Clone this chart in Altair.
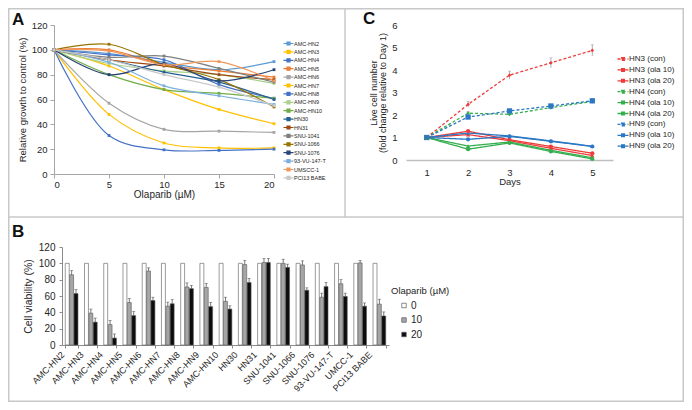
import altair as alt
import pandas as pd

FONT = "Liberation Sans"
TXT = "#262626"
W, H = 676, 394
M = 8


def px(v):
    return v - M


# ---------------- Panel A : relative growth curves ----------------
conc_uM = [0, 5, 10, 15, 20]
lines_A = ["AMC-HN2", "AMC-HN3", "AMC-HN4", "AMC-HN5", "AMC-HN6", "AMC-HN7",
           "AMC-HN8", "AMC-HN9", "AMC-HN10", "HN30", "HN31", "SNU-1041",
           "SNU-1066", "SNU-1076", "93-VU-147-T", "UMSCC-1", "PCI13 BABE"]
colors_A = ["#5B9BD5", "#FFC000", "#4472C4", "#ED7D31", "#A5A5A5", "#FFC000",
            "#4472C4", "#A9D18E", "#70AD47", "#255E91", "#9E480E", "#7F7F7F",
            "#997300", "#264478", "#7CAFDD", "#F1975A", "#C9C9C9"]
g_hn2 = [100, 97, 90, 84, 90.5]
g_hn3 = [100, 48, 25, 21, 21]
g_hn4 = [100, 31, 19.5, 19, 20]
g_hn5 = [100, 100, 88, 83, 78]
g_hn6 = [100, 57, 36, 34.5, 33.5]
g_hn7 = [100, 87, 68, 52, 40.5]
g_hn8 = [100, 96, 92, 72, 61]
g_hn9 = [100, 89, 83, 80, 73]
g_hn10 = [100, 80, 68, 65, 61]
g_hn30 = [100, 92, 82, 74, 60]
g_hn31 = [100, 92, 87, 80, 76]
g_snu1041 = [100, 94, 95, 85, 74]
g_snu1066 = [100, 104.5, 88, 76, 54]
g_snu1076 = [100, 80, 89, 75, 84]
g_vu147 = [100, 90, 71, 63, 56]
g_umscc1 = [100, 99, 88, 90.5, 75]
g_pci13 = [100, 92, 80, 70, 55]
growth_A = [g_hn2, g_hn3, g_hn4, g_hn5, g_hn6, g_hn7, g_hn8, g_hn9, g_hn10,
            g_hn30, g_hn31, g_snu1041, g_snu1066, g_snu1076, g_vu147, g_umscc1, g_pci13]

# ---------------- Panel C : live cell number ----------------
days = [1, 2, 3, 4, 5]
series_C = ["HN3 (con)", "HN3 (ola 10)", "HN3 (ola 20)",
            "HN4 (con)", "HN4 (ola 10)", "HN4 (ola 20)",
            "HN9 (con)", "HN9 (ola 10)", "HN9 (ola 20)"]
colors_C = ["#EE3B3B", "#EE3B3B", "#EE3B3B",
            "#34AE4E", "#34AE4E", "#34AE4E",
            "#2B78C5", "#2B78C5", "#2B78C5"]
dash_C = [[3, 2], [1, 0], [1, 0], [3, 2], [1, 0], [1, 0], [3, 2], [1, 0], [1, 0]]
shape_C = ["diamond", "triangle-up", "circle", "diamond", "triangle-up", "circle",
           "square", "triangle-up", "circle"]
marker_sizes = {"diamond": 14, "triangle-up": 18, "circle": 18, "square": 28}
c_hn3_con = [1, 2.47, 3.77, 4.32, 4.87]
c_hn3_o10 = [1, 1.13, 0.86, 0.52, 0.2]
c_hn3_o20 = [1, 1.28, 0.9, 0.6, 0.3]
c_hn4_con = [1, 2.08, 2.03, 2.33, 2.6]
c_hn4_o10 = [1, 0.62, 0.8, 0.43, 0.1]
c_hn4_o20 = [1, 0.48, 0.76, 0.38, 0.05]
c_hn9_con = [1, 1.91, 2.18, 2.4, 2.63]
c_hn9_o10 = [1, 1.2, 1.07, 0.85, 0.61]
c_hn9_o20 = [1, 0.92, 1.05, 0.83, 0.6]
e_hn3_con = [0.04, 0.13, 0.18, 0.22, 0.25]
e_hn4_con = [0.04, 0.07, 0.07, 0.08, 0.08]
e_hn9_con = [0.04, 0.08, 0.08, 0.08, 0.08]
values_C = [c_hn3_con, c_hn3_o10, c_hn3_o20, c_hn4_con, c_hn4_o10, c_hn4_o20,
            c_hn9_con, c_hn9_o10, c_hn9_o20]
errors_C = {"HN3 (con)": e_hn3_con, "HN4 (con)": e_hn4_con, "HN9 (con)": e_hn9_con}

# ---------------- Panel B : cell viability bars ----------------
cats_B = ["AMC-HN2", "AMC-HN3", "AMC-HN4", "AMC-HN5", "AMC-HN6", "AMC-HN7",
          "AMC-HN8", "AMC-HN9", "AMC-HN10", "HN30", "HN31", "SNU-1041",
          "SNU-1066", "SNU-1076", "93-VU-147-T", "UMCC-1", "PCI13 BABE"]
doses_B = ["0", "10", "20"]
fills_B = ["#FFFFFF", "#A6A6A6", "#0D0D0D"]
via_0 = [100] * 17
via_10 = [86, 39, 25, 52, 90.5, 47.5, 71, 70.5, 53.5, 98.5, 101, 100, 98, 58.5, 75, 100.5, 50]
via_20 = [63, 28, 8.5, 36, 54.5, 50.5, 69, 47, 44, 76.5, 101, 95, 67, 71.5, 59.5, 47.5, 35.5]
err_10 = [5, 5, 5, 5, 4, 5, 5, 5, 5, 5, 5, 5, 5, 5, 5, 3, 6]
err_20 = [5, 5, 5, 5, 4, 5, 4, 5, 4, 5, 5, 4, 3, 5, 4, 4, 5]

# ---------------- build tables ----------------
dfA = pd.DataFrame([{"line": n, "conc": c, "value": v}
                    for n, vals in zip(lines_A, growth_A)
                    for c, v in zip(conc_uM, vals)])
dfC = pd.DataFrame([{"series": s, "marker": m, "day": d, "value": v}
                    for s, m, vals in zip(series_C, shape_C, values_C)
                    for d, v in zip(days, vals)])
dfCe = pd.DataFrame([{"series": s, "day": d, "lo": v - e, "hi": v + e}
                     for s, vals in zip(series_C, values_C) if s in errors_C
                     for d, v, e in zip(days, vals, errors_C[s]) if d > 1])
rowsB = []
for i, cat in enumerate(cats_B):
    for dose, vals, errs in (("0", via_0, None), ("10", via_10, err_10), ("20", via_20, err_20)):
        rowsB.append({"cat": cat, "dose": dose, "value": vals[i],
                      "top": vals[i] + (errs[i] if errs else 0), "haserr": errs is not None})
dfB = pd.DataFrame(rowsB)
dfBe = dfB[dfB["haserr"]]

AX = "#A6A6A6"

# ---------------- Panel A chart ----------------
xA = alt.X("conc:Q", scale=alt.Scale(domain=[0, 20], range=[px(54), px(274)], nice=False, zero=False),
           axis=alt.Axis(orient="bottom", offset=px(174) - H, values=conc_uM, title="Olaparib (µM)",
                         domainColor=AX, tickColor=AX, tickSize=4, labelPadding=1,
                         labelFontSize=9.5, titleFontSize=10, titlePadding=1))
yA = alt.Y("value:Q", scale=alt.Scale(domain=[0, 120], range=[px(174), px(25)], nice=False, zero=False),
           axis=alt.Axis(orient="left", offset=-px(54), values=[0, 20, 40, 60, 80, 100, 120],
                         title="Relative growth to control (%)",
                         domainColor=AX, tickColor=AX, tickSize=4, labelPadding=3,
                         labelFontSize=9.5, titleFontSize=9.5, titlePadding=4))
legA = alt.Legend(title=None, orient="none", legendX=px(285), legendY=px(40),
                  symbolType="M-2,0H2M-0.6,-0.6H0.6V0.6H-0.6Z", symbolSize=25,
                  symbolStrokeWidth=1.2, labelFontSize=5.5, rowPadding=-0.6, labelOffset=2,
                  padding=0, labelColor=TXT, symbolLimit=0)
colA = alt.Color("line:N", scale=alt.Scale(domain=lines_A, range=colors_A), legend=legA)
lineA = alt.Chart(dfA).mark_line(interpolate="catmull-rom", strokeWidth=1.2).encode(xA, yA, colA)
pointA = alt.Chart(dfA).mark_point(filled=True, shape="square", size=8, opacity=1).encode(xA, yA, colA)
panelA = alt.layer(lineA, pointA)

# ---------------- Panel C chart ----------------
yCscale = alt.Scale(domain=[0, 6], range=[px(160), px(25)], nice=False, zero=False)
xC = alt.X("day:Q", scale=alt.Scale(domain=[0.5, 5.5], range=[px(406), px(613)], nice=False, zero=False),
           axis=alt.Axis(orient="bottom", offset=px(160) - H, values=days, title="Days",
                         domainColor="#BFBFBF", domainWidth=1.5, ticks=False, labelPadding=7,
                         labelFontSize=9.5, titleFontSize=9.5, titlePadding=0))
yC = alt.Y("value:Q", scale=yCscale,
           axis=alt.Axis(orient="left", offset=-px(406), values=[0, 1, 2, 3, 4, 5, 6], format="d",
                         title=["Live cell number", "(fold change relative to Day 1)"],
                         domain=False, ticks=False, labelPadding=9, titleLineHeight=9,
                         labelFontSize=9.5, titleFontSize=9, titlePadding=4))
legC = alt.Legend(title=None, orient="none", legendX=px(619), legendY=px(55),
                  symbolType="M-2,0H2M-0.5,-0.5H0.5V0.5H-0.5Z", symbolSize=30,
                  symbolStrokeWidth=1.3, labelFontSize=8, rowPadding=2.9, labelOffset=2,
                  padding=0, labelColor=TXT)
colC = alt.Color("series:N", scale=alt.Scale(domain=series_C, range=colors_C), legend=legC)
dashC = alt.StrokeDash("series:N", scale=alt.Scale(domain=series_C, range=dash_C), legend=legC)
lineC = alt.Chart(dfC).mark_line(strokeWidth=1.3).encode(xC, yC, colC, dashC)
point_layers_C = []
for m in ["diamond", "square", "triangle-up", "circle"]:
    point_layers_C.append(
        alt.Chart(dfC[dfC["marker"] == m]).mark_point(
            filled=True, opacity=1, shape=m, size=marker_sizes[m]).encode(xC, yC, colC))
errC = alt.Chart(dfCe).mark_rule(color="#9E9E9E", strokeWidth=0.8).encode(
    xC, alt.Y("lo:Q", scale=yCscale), alt.Y2("hi:Q"))
capC = alt.Chart(dfCe).mark_tick(color="#9E9E9E", size=3, thickness=0.8, orient="horizontal").encode(
    xC, alt.Y("hi:Q", scale=yCscale))
panelC = alt.layer(lineC, errC, capC, *point_layers_C)

# ---------------- Panel B chart ----------------
xB = alt.X("cat:N", sort=cats_B,
           scale=alt.Scale(domain=cats_B, range=[px(62), px(389)], paddingInner=0.34, paddingOuter=0.17),
           axis=alt.Axis(orient="bottom", offset=px(345) - H, title=None, labelAngle=-45,
                         labelAlign="right", labelBaseline="top", labelOffset=-12,
                         tickBand="extent", tickSize=3, labelPadding=2, labelFontSize=9,
                         domainColor="#8C8C8C", tickColor="#8C8C8C"))
yBscale = alt.Scale(domain=[0, 120], range=[px(345), px(247)], nice=False, zero=False)
yB = alt.Y("value:Q", scale=yBscale,
           axis=alt.Axis(orient="left", offset=-px(62), values=[0, 20, 40, 60, 80, 100, 120],
                         title="Cell viability (%)", domainColor="#8C8C8C", tickColor="#8C8C8C",
                         tickSize=3, labelPadding=4, labelFontSize=10, titleFontSize=10.5,
                         titlePadding=5))
xoB = alt.XOffset("dose:N", sort=doses_B, scale=alt.Scale(domain=doses_B, paddingInner=0.1))
legB = alt.Legend(title="Olaparib (µM)", orient="none", legendX=px(391), legendY=px(286),
                  symbolType="square", symbolSize=20, symbolStrokeColor="#595959",
                  symbolStrokeWidth=0.7, symbolOffset=8, labelFontSize=10, titleFontSize=9.5,
                  titleFontWeight="normal", titlePadding=5, rowPadding=4.5, labelOffset=2,
                  padding=0, labelColor=TXT, titleColor=TXT)
barsB = alt.Chart(dfB).mark_bar(stroke="#595959", strokeWidth=0.6).encode(
    xB, yB, xoB, alt.Fill("dose:N", scale=alt.Scale(domain=doses_B, range=fills_B), legend=legB))
errB = alt.Chart(dfBe).mark_rule(color="#404040", strokeWidth=0.7).encode(
    xB, xoB, alt.Y("value:Q", scale=yBscale), alt.Y2("top:Q"))
capB = alt.Chart(dfBe).mark_tick(color="#404040", size=3, thickness=0.7, orient="horizontal").encode(
    xB, xoB, alt.Y("top:Q", scale=yBscale))
panelB = alt.layer(barsB, errB, capB)

# ---------------- frame and panel letters ----------------
one = pd.DataFrame({"k": [0]})
FR = "#C8C8C8"
outer = alt.Chart(one).mark_rect(fillOpacity=0, stroke=FR, strokeWidth=1.5).encode(
    x=alt.value(0.75), x2=alt.value(W - 0.75), y=alt.value(0.75), y2=alt.value(H - 0.75))
hline = alt.Chart(one).mark_rule(color=FR, strokeWidth=1.5).encode(
    x=alt.value(0), x2=alt.value(W), y=alt.value(px(217)))
vline = alt.Chart(one).mark_rule(color=FR, strokeWidth=1.5).encode(
    x=alt.value(px(345)), y=alt.value(0), y2=alt.value(px(217)))


def letter(t, x, y):
    return alt.Chart(one).mark_text(text=t, align="left", baseline="alphabetic", fontSize=17,
                                    fontWeight="bold", font=FONT, color="#111111").encode(
        x=alt.value(px(x)), y=alt.value(px(y)))


chart = alt.layer(
    outer, hline, vline, panelA, panelC, panelB,
    letter("A", 12, 25), letter("C", 363, 24), letter("B", 12, 237)
).resolve_scale(
    x="independent", y="independent", color="independent", fill="independent",
    strokeDash="independent"
).properties(
    width=W, height=H, autosize="none", padding=0, background="white"
).configure_view(strokeWidth=0).configure_axis(
    labelFont=FONT, titleFont=FONT, labelColor=TXT, titleColor=TXT,
    titleFontWeight="normal", grid=False
).configure_legend(labelFont=FONT, titleFont=FONT)

chart.save("out.html", embed_options={"renderer": "svg", "actions": False})
